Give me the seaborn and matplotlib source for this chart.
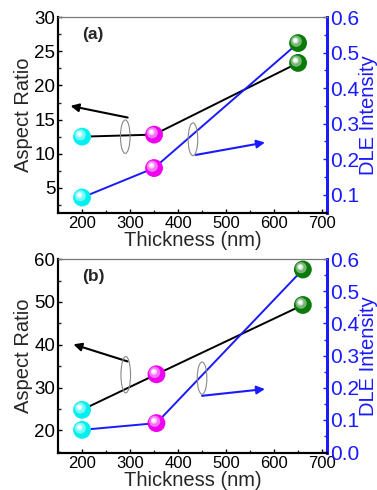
import matplotlib
matplotlib.use("Agg")
import matplotlib.pyplot as plt
import matplotlib.transforms as mtransforms
from matplotlib.patches import Ellipse
from matplotlib.ticker import AutoMinorLocator
import seaborn as sns
import pandas as pd
import numpy as np

sns.set_theme(style="ticks")
plt.rcParams['font.family'] = ['Liberation Sans', 'DejaVu Sans']

# ---- data ----
thickness_a = [200, 350, 650]
aspect_a = [12.5, 12.8, 23.3]
dle_a = [0.092, 0.175, 0.527]

thickness_b = [200, 355, 660]
aspect_b = [24.8, 33.1, 49.3]
dle_b = [0.069, 0.090, 0.568]

point_colors = ["#00f0f0", "#f000f0", "#0a7a0a"]
panel_labels = ["(a)", "(b)"]

BLUE = "#1a1aff"

fig = plt.figure(figsize=(3.77, 4.90), dpi=100)
ax_a = fig.add_axes([0.154, 0.565, 0.713, 0.400])
ax_b = fig.add_axes([0.154, 0.0755, 0.713, 0.3955])


def lighten(c, f):
    rgb = np.array(matplotlib.colors.to_rgb(c))
    return tuple(rgb + (1 - rgb) * f)


def spheres(ax, x, y, colors):
    df = pd.DataFrame({"x": x, "y": y, "c": colors})
    sns.scatterplot(data=df, x="x", y="y", hue="c", palette={c: c for c in colors},
                    s=165, edgecolor="none", legend=False, ax=ax, zorder=5)
    for f, s, dx, dy in [(0.45, 65, -1.3, 1.3), (0.8, 20, -1.8, 1.8), (1.0, 6, -2.0, 2.0)]:
        tr = mtransforms.offset_copy(ax.transData, fig=fig, x=dx, y=dy, units="points")
        ax.scatter(x, y, s=s, c=[lighten(c, f) for c in colors], edgecolors="none",
                   transform=tr, zorder=6)


def panel(ax, x, asp, dle, ylim_l, ylim_r, yticks_l, label, arrows):
    ax2 = ax.twinx()
    df = pd.DataFrame({"t": x, "a": asp, "d": dle})
    sns.lineplot(data=df, x="t", y="a", color="black", lw=1.4, ax=ax, zorder=3)
    sns.lineplot(data=df, x="t", y="d", color=BLUE, lw=1.4, ax=ax2, zorder=3)
    spheres(ax, x, asp, point_colors)
    spheres(ax2, x, dle, point_colors)

    ax.set_xlim(150, 710)
    ax.set_ylim(*ylim_l)
    ax.set_xticks([200, 300, 400, 500, 600, 700])
    ax.set_yticks(yticks_l)
    ax2.set_yticks(np.round(np.arange(0.0, 0.61, 0.1), 1))
    ax2.set_ylim(*ylim_r)
    ax.xaxis.set_minor_locator(AutoMinorLocator(2))
    ax.yaxis.set_minor_locator(AutoMinorLocator(2))
    ax2.yaxis.set_minor_locator(AutoMinorLocator(2))

    ax.set_xlabel("Thickness (nm)", fontsize=14.5, labelpad=0)
    ax.set_ylabel("Aspect Ratio", fontsize=14.5, labelpad=1)
    ax2.set_ylabel("DLE Intensity", fontsize=14.5, color=BLUE, labelpad=0)

    ax.tick_params(axis="x", which="major", direction="in", length=3, width=1,
                   labelsize=12, pad=2, colors="black")
    ax.tick_params(axis="y", which="major", direction="in", length=3, width=1,
                   labelsize=13.5, pad=2, colors="black")
    ax.tick_params(axis="both", which="minor", direction="in", length=2, width=1)
    ax2.tick_params(axis="y", which="major", direction="in", length=3, width=1,
                    labelsize=15, pad=2, colors=BLUE)
    ax2.tick_params(axis="y", which="minor", direction="in", length=2, width=1, colors=BLUE)

    for a in (ax, ax2):
        a.spines["left"].set_color("black")
        a.spines["left"].set_linewidth(1.5)
        a.spines["bottom"].set_color("black")
        a.spines["bottom"].set_linewidth(1.5)
        a.spines["top"].set_color("#777777")
        a.spines["top"].set_linewidth(0.8)
        a.spines["right"].set_color(BLUE)
        a.spines["right"].set_linewidth(2)

    ax.text(0.09, 0.91, label, transform=ax.transAxes, fontsize=12.5,
            fontweight="bold", va="center", ha="left")

    (bl_from, bl_to, e1, bl_h, bu_from, bu_to, e2, bu_h) = arrows
    ax.annotate("", xy=bl_to, xytext=bl_from,
                arrowprops=dict(arrowstyle="-|>", color="black", lw=1.5,
                                mutation_scale=12, shrinkA=0, shrinkB=0), zorder=4)
    ax.add_patch(Ellipse(e1, 20, bl_h, fill=False, edgecolor="#888888", lw=0.8, zorder=4))
    ax2.annotate("", xy=bu_to, xytext=bu_from,
                 arrowprops=dict(arrowstyle="-|>", color=BLUE, lw=1.5,
                                 mutation_scale=12, shrinkA=0, shrinkB=0), zorder=4)
    ax2.add_patch(Ellipse(e2, 20, bu_h, fill=False, edgecolor="#888888", lw=0.8, zorder=4))
    return ax2


panel(ax_a, thickness_a, aspect_a, dle_a, (1.3, 30), (0.048, 0.6), [5, 10, 15, 20, 25, 30],
      panel_labels[0],
      ((295, 15.3), (176, 17.0), (290, 12.5), 4.9,
       (437, 0.212), (581, 0.247), (431, 0.256), 0.092))
panel(ax_b, thickness_b, aspect_b, dle_b, (14.7, 60), (-0.003, 0.6), [20, 30, 40, 50, 60],
      panel_labels[1],
      ((295, 36.1), (182, 40.1), (291, 33.0), 8.5,
       (450, 0.175), (581, 0.196), (450, 0.23), 0.10))

fig.savefig("out.png", dpi=100)
